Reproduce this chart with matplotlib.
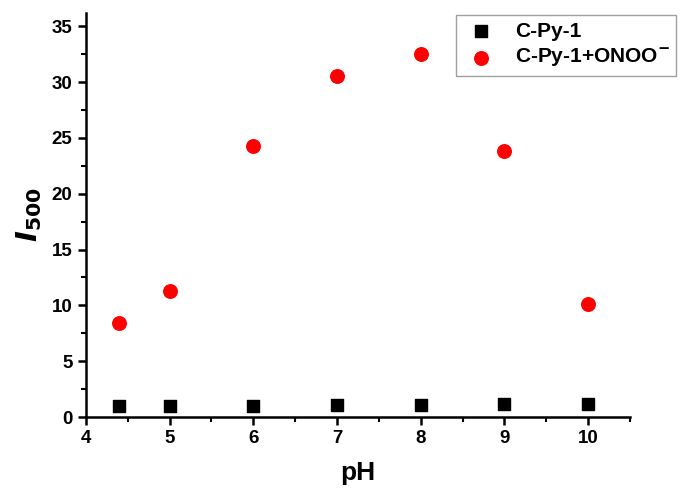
import matplotlib
matplotlib.use("Agg")
import matplotlib.pyplot as plt
from matplotlib.ticker import MultipleLocator

plt.rcParams['font.family'] = ['Liberation Sans', 'DejaVu Sans']
plt.rcParams['font.weight'] = 'bold'

ph = [4.4, 5, 6, 7, 8, 9, 10]
probe = [1.0, 0.95, 1.0, 1.1, 1.1, 1.15, 1.2]
probe_onoo = [8.4, 11.3, 24.3, 30.5, 32.5, 23.8, 10.1]

fig = plt.figure(figsize=(6.81, 4.93), dpi=100)
ax = fig.add_axes([0.126, 0.154, 0.799, 0.82])

ax.scatter(ph, probe, marker='s', s=75, color='black', label='C-Py-1', zorder=3)
ax.scatter(ph, probe_onoo, marker='o', s=95, color='#ff0000', label='C-Py-1+ONOO$^{\\mathbf{-}}$', zorder=3)

ax.set_xlim(4, 10.5)
ax.set_ylim(0, 36.2)
ax.xaxis.set_major_locator(MultipleLocator(1))
ax.xaxis.set_minor_locator(MultipleLocator(0.5))
ax.yaxis.set_major_locator(MultipleLocator(5))
ax.yaxis.set_minor_locator(MultipleLocator(2.5))

for s in ['top', 'right']:
    ax.spines[s].set_visible(False)
for s in ['left', 'bottom']:
    ax.spines[s].set_linewidth(1.8)

ax.tick_params(which='major', direction='out', length=6, width=1.8, labelsize=13.5)
ax.tick_params(which='minor', direction='out', length=3.5, width=1.5)
for lbl in ax.get_xticklabels() + ax.get_yticklabels():
    lbl.set_fontweight('bold')

ax.set_xlabel('pH', fontsize=19, fontweight='bold', labelpad=10)
ax.set_ylabel('$\\mathbfit{I}_{\\mathbf{500}}$', fontsize=21, labelpad=6)

leg = ax.legend(loc='upper right', bbox_to_anchor=(1.008, 0.99), bbox_transform=fig.transFigure,
                fontsize=15, frameon=True, fancybox=False, edgecolor='#888888',
                handletextpad=0.7, borderpad=0.3, labelspacing=0.3, handlelength=1.8)
leg.get_frame().set_linewidth(1.0)
for t in leg.get_texts():
    t.set_fontweight('bold')

fig.savefig('out.png', dpi=100)
